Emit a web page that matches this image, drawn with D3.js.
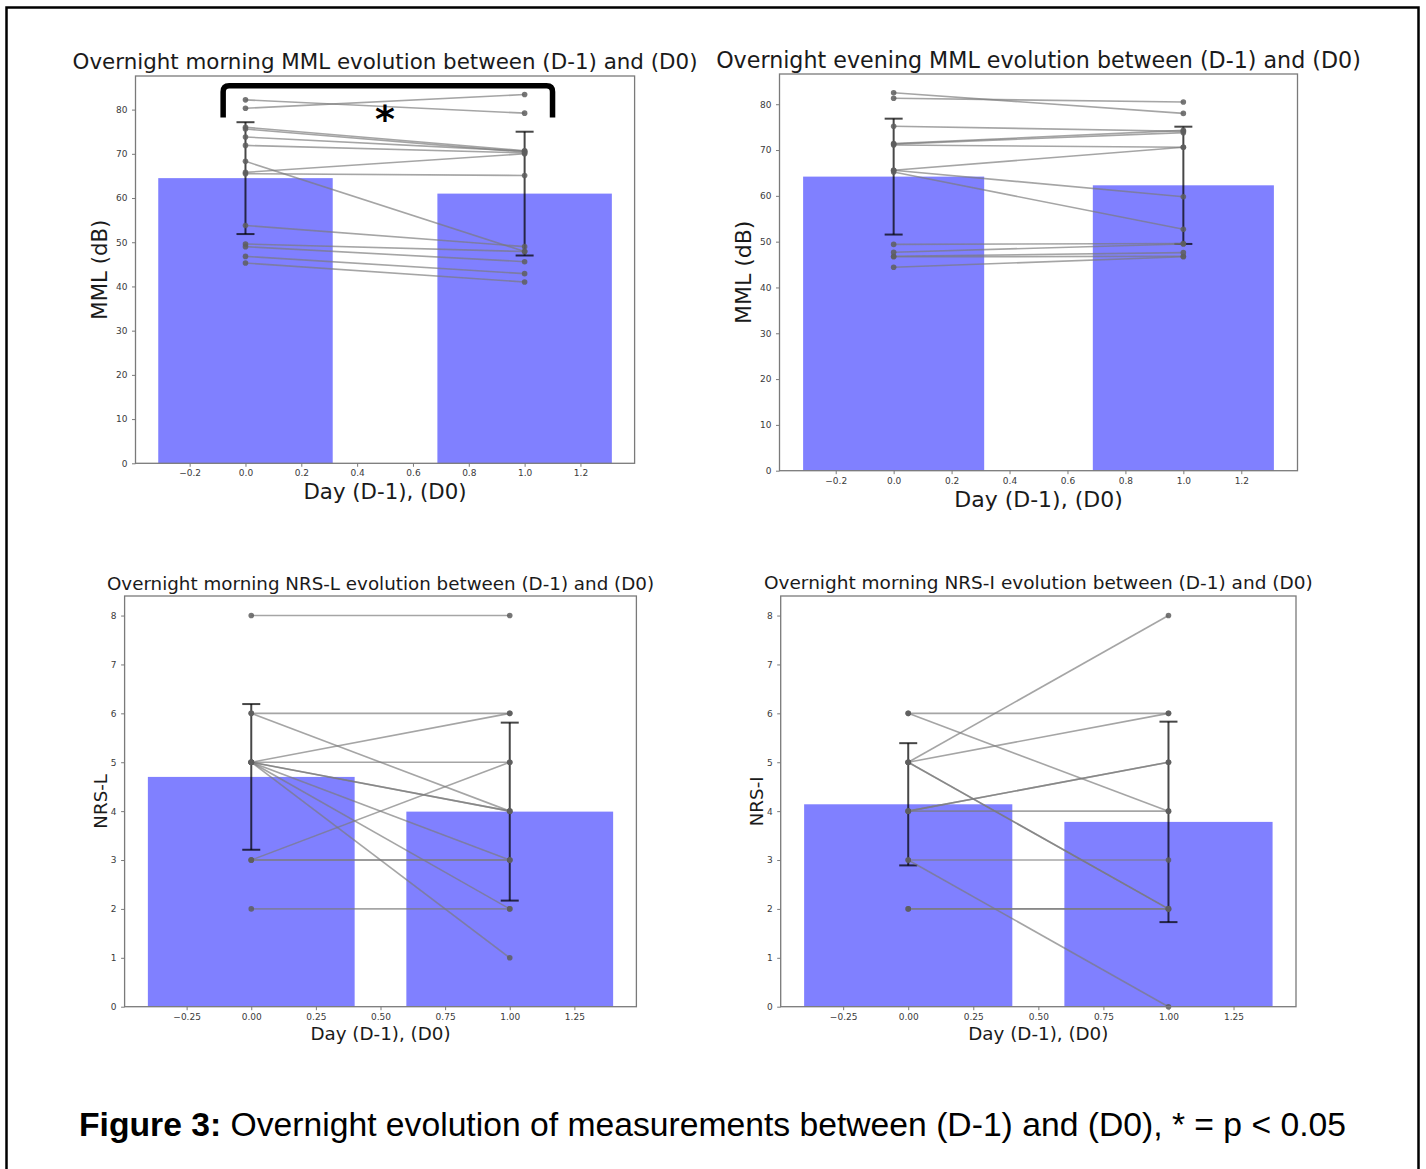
<!DOCTYPE html>
<html>
<head>
<meta charset="utf-8">
<script src="https://cdn.jsdelivr.net/npm/d3@7"></script>
<style>
  body { margin: 0; background: #fff; }
  svg { display: block; }
</style>
</head>
<body>
<svg id="fig" width="1426" height="1169"></svg>
<script>
// ---------------- data ----------------
const panelTitles = [
  "Overnight morning MML evolution between (D-1) and (D0)",
  "Overnight evening MML evolution between (D-1) and (D0)",
  "Overnight morning NRS-L evolution between (D-1) and (D0)",
  "Overnight morning NRS-I evolution between (D-1) and (D0)"
];
const yLabels = ["MML (dB)", "MML (dB)", "NRS-L", "NRS-I"];
const xLabel = "Day (D-1), (D0)";
const days = [0, 1];

// x / y tick values
const xTicksMML = [-0.2, 0.0, 0.2, 0.4, 0.6, 0.8, 1.0, 1.2];
const xTicksNRS = [-0.25, 0.0, 0.25, 0.5, 0.75, 1.0, 1.25];
const yTicksMML = [0, 10, 20, 30, 40, 50, 60, 70, 80];
const yTicksNRS = [0, 1, 2, 3, 4, 5, 6, 7, 8];

// bar means and error (half-length) per day
const morningMMLMeans = [64.5, 61.0];
const morningMMLErr   = [12.65, 14.0];
const eveningMMLMeans = [64.2, 62.3];
const eveningMMLErr   = [12.65, 12.8];
const nrsLMeans = [4.70, 3.99];
const nrsLErr   = [1.49, 1.82];
const nrsIMeans = [4.14, 3.78];
const nrsIErr   = [1.25, 2.05];

// individual subjects, (D-1) and (D0)
const morningMMLD1 = [82.2, 80.3, 76.0, 75.6, 73.8, 71.9, 68.3, 65.8, 65.5, 53.8, 49.6, 49.0, 46.8, 45.3];
const morningMMLD0 = [79.2, 83.4, 70.7, 70.4, 70.6, 70.2, 47.9, 70.0, 65.1, 49.0, 47.9, 45.6, 42.9, 41.0];
const eveningMMLD1 = [82.5, 81.3, 75.2, 71.4, 71.3, 71.1, 65.6, 65.6, 65.2, 49.4, 47.7, 46.8, 46.7, 44.4];
const eveningMMLD0 = [78.0, 80.5, 74.1, 74.3, 73.8, 70.6, 70.6, 59.8, 52.7, 49.6, 49.5, 47.6, 46.8, 46.7];
const nrsLD1 = [8, 6, 6, 5, 5, 5, 5, 5, 5, 5, 3, 3, 3, 2];
const nrsLD0 = [8, 6, 4, 6, 5, 4, 4, 3, 2, 1, 5, 3, 3, 2];
const nrsID1 = [6, 6, 5, 5, 5, 5, 4, 4, 4, 3, 3, 2, 2];
const nrsID0 = [6, 4, 8, 6, 2, 2, 5, 5, 4, 3, 0, 2, 2];

// significance bracket (morning MML): x extent and y (tips, top), star position
const bracketX = [-0.08, 1.1];
const bracketY = [78.2, 85.4];
const starPos = [0.5, 78.6];

const captionBold = "Figure 3:";
const captionRest = " Overnight evolution of measurements between (D-1) and (D0), * = p < 0.05";

// ---------------- layout ----------------
const panels = [
  { box: {l: 135.5, r: 634.6, t: 76, b: 463.3}, xDom: [-0.394, 1.394], yDom: [0, 87.6],
    xTicks: xTicksMML, xFmt: ".1f", yTicks: yTicksMML, barW: 0.625,
    d1: morningMMLD1, d0: morningMMLD0, means: morningMMLMeans, errs: morningMMLErr,
    title: panelTitles[0], yLabel: yLabels[0], titleSize: 21.4, titleY: 69,
    labSize: 21.3, xLabY: 498.5, yLabX: 107, bracket: true },
  { box: {l: 779.5, r: 1297.5, t: 74, b: 470.7}, xDom: [-0.394, 1.394], yDom: [0, 86.6],
    xTicks: xTicksMML, xFmt: ".1f", yTicks: yTicksMML, barW: 0.625,
    d1: eveningMMLD1, d0: eveningMMLD0, means: eveningMMLMeans, errs: eveningMMLErr,
    title: panelTitles[1], yLabel: yLabels[1], titleSize: 22.2, titleY: 67.5,
    labSize: 22, xLabY: 507, yLabX: 750.5, bracket: false },
  { box: {l: 124.6, r: 636.4, t: 596, b: 1006.7}, xDom: [-0.49, 1.49], yDom: [0, 8.4],
    xTicks: xTicksNRS, xFmt: ".2f", yTicks: yTicksNRS, barW: 0.8,
    d1: nrsLD1, d0: nrsLD0, means: nrsLMeans, errs: nrsLErr,
    title: panelTitles[2], yLabel: yLabels[2], titleSize: 18.3, titleY: 590,
    labSize: 18.3, xLabY: 1040, yLabX: 107, bracket: false },
  { box: {l: 780.7, r: 1296, t: 596, b: 1006.7}, xDom: [-0.49, 1.49], yDom: [0, 8.4],
    xTicks: xTicksNRS, xFmt: ".2f", yTicks: yTicksNRS, barW: 0.8,
    d1: nrsID1, d0: nrsID0, means: nrsIMeans, errs: nrsIErr,
    title: panelTitles[3], yLabel: yLabels[3], titleSize: 18.5, titleY: 589,
    labSize: 18.3, xLabY: 1040, yLabX: 763, bracket: false }
];

const FONT = "'DejaVu Sans', Verdana, sans-serif";
const svg = d3.select("#fig");
svg.append("rect").attr("width", 1426).attr("height", 1169).attr("fill", "#fff");
svg.append("rect").attr("x", 6.5).attr("y", 7.5).attr("width", 1412).attr("height", 1185)
  .attr("fill", "none").attr("stroke", "#000").attr("stroke-width", 2.5);

panels.forEach(p => {
  const x = d3.scaleLinear().domain(p.xDom).range([p.box.l, p.box.r]);
  const y = d3.scaleLinear().domain(p.yDom).range([p.box.b, p.box.t]);
  const g = svg.append("g");

  // bars
  g.selectAll("rect.bar").data(days).join("rect")
    .attr("class", "bar")
    .attr("x", d => x(d - p.barW / 2))
    .attr("width", d => x(d + p.barW / 2) - x(d - p.barW / 2))
    .attr("y", (d, i) => y(p.means[i]))
    .attr("height", (d, i) => y(0) - y(p.means[i]))
    .attr("fill", "#8080ff");

  // error bars
  const eb = g.selectAll("g.err").data(days).join("g").attr("class", "err")
    .attr("stroke", "#000").attr("stroke-opacity", 0.72).attr("stroke-width", 2);
  eb.append("line")
    .attr("x1", d => x(d)).attr("x2", d => x(d))
    .attr("y1", (d, i) => y(p.means[i] - p.errs[i]))
    .attr("y2", (d, i) => y(p.means[i] + p.errs[i]));
  [-1, 1].forEach(s => {
    eb.append("line")
      .attr("x1", d => x(d) - 9).attr("x2", d => x(d) + 9)
      .attr("y1", (d, i) => y(p.means[i] + s * p.errs[i]))
      .attr("y2", (d, i) => y(p.means[i] + s * p.errs[i]));
  });

  // subject lines
  const pairs = p.d1.map((v, i) => [v, p.d0[i]]);
  g.selectAll("line.subj").data(pairs).join("line")
    .attr("class", "subj")
    .attr("x1", x(days[0])).attr("x2", x(days[1]))
    .attr("y1", d => y(d[0])).attr("y2", d => y(d[1]))
    .attr("stroke", "#7a7a7a").attr("stroke-opacity", 0.68).attr("stroke-width", 1.6);
  const pts = [];
  pairs.forEach(d => { pts.push([days[0], d[0]]); pts.push([days[1], d[1]]); });
  g.selectAll("circle.pt").data(pts).join("circle")
    .attr("class", "pt")
    .attr("cx", d => x(d[0])).attr("cy", d => y(d[1])).attr("r", 2.8)
    .attr("fill", "#5e5e5e").attr("fill-opacity", 0.85);

  // frame
  g.append("rect").attr("x", p.box.l).attr("y", p.box.t)
    .attr("width", p.box.r - p.box.l).attr("height", p.box.b - p.box.t)
    .attr("fill", "none").attr("stroke", "#7a7a7a").attr("stroke-width", 1.3);

  // axes
  const xa = g.append("g").attr("transform", `translate(0,${p.box.b})`)
    .call(d3.axisBottom(x).tickValues(p.xTicks).tickFormat(d3.format(p.xFmt)).tickSize(3.5).tickPadding(3));
  const ya = g.append("g").attr("transform", `translate(${p.box.l},0)`)
    .call(d3.axisLeft(y).tickValues(p.yTicks).tickFormat(d3.format("d")).tickSize(3.5).tickPadding(4.5));
  [xa, ya].forEach(a => {
    a.select(".domain").remove();
    a.selectAll(".tick line").attr("stroke", "#7a7a7a").attr("stroke-width", 1);
    a.selectAll(".tick text").attr("fill", "#3a3a3a").style("font-family", FONT).style("font-size", "9px");
  });

  // titles & labels
  g.append("text").attr("x", (p.box.l + p.box.r) / 2).attr("y", p.titleY)
    .attr("text-anchor", "middle").style("font-family", FONT).style("font-size", p.titleSize + "px")
    .attr("fill", "#1a1a1a").text(p.title);
  g.append("text").attr("x", (p.box.l + p.box.r) / 2).attr("y", p.xLabY)
    .attr("text-anchor", "middle").style("font-family", FONT).style("font-size", p.labSize + "px")
    .attr("fill", "#1a1a1a").text(xLabel);
  g.append("text")
    .attr("transform", `translate(${p.yLabX},${(p.box.t + p.box.b) / 2}) rotate(-90)`)
    .attr("text-anchor", "middle").style("font-family", FONT).style("font-size", p.labSize + "px")
    .attr("fill", "#1a1a1a").text(p.yLabel);

  // significance bracket
  if (p.bracket) {
    const bx0 = x(bracketX[0]), bx1 = x(bracketX[1]);
    const by0 = y(bracketY[0]), by1 = y(bracketY[1]);
    const rr = 6;
    g.append("path")
      .attr("d", `M${bx0},${by0} L${bx0},${by1 + rr} Q${bx0},${by1} ${bx0 + rr},${by1} L${bx1 - rr},${by1} Q${bx1},${by1} ${bx1},${by1 + rr} L${bx1},${by0}`)
      .attr("fill", "none").attr("stroke", "#000").attr("stroke-width", 5.5);
    g.append("text").attr("x", x(starPos[0])).attr("y", y(starPos[1]) + 16)
      .attr("text-anchor", "middle").style("font-family", FONT).style("font-weight", "bold")
      .style("font-size", "38px").attr("fill", "#000").text("*");
  }
});

// caption
const cap = svg.append("text").attr("x", 79).attr("y", 1136)
  .attr("textLength", 1267).attr("lengthAdjust", "spacingAndGlyphs")
  .style("font-family", "'Liberation Sans', Arial, sans-serif").style("font-size", "33px").attr("fill", "#000");
cap.append("tspan").style("font-weight", "bold").text(captionBold);
cap.append("tspan").text(captionRest);
</script>
</body>
</html>
